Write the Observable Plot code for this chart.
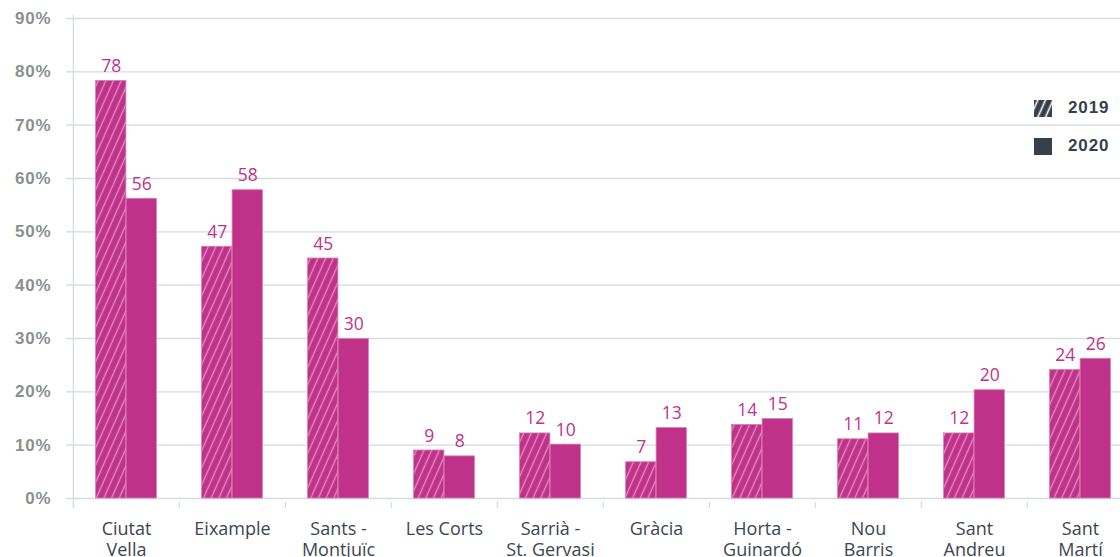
<!DOCTYPE html>
<html><head><meta charset="utf-8">
<script src="https://cdn.jsdelivr.net/npm/d3@7"></script>
<script src="https://cdn.jsdelivr.net/npm/@observablehq/plot@0.6"></script>
<style>
html,body{margin:0;padding:0;background:#fff;overflow:hidden;width:1120px;height:557px;}
#wrap{position:relative;width:1120px;height:557px;overflow:hidden;}
#chart svg{display:block;overflow:visible;max-width:none !important;}
g[aria-label="y-axis tick label"]{font-family:"Liberation Sans",Arial,sans-serif;font-size:17px;font-weight:700;letter-spacing:0.8px;}
g[aria-label="x-axis tick label"]{font-family:"Open Sans",sans-serif;font-size:18px;}
g.vlabels{font-family:"Open Sans",sans-serif;font-size:17.5px;}
#legend{position:absolute;left:1034px;top:99px;font-family:"Liberation Sans",Arial,sans-serif;font-weight:700;font-size:17px;letter-spacing:0.9px;color:#363f4a;}
#legend .row{display:flex;align-items:center;height:18px;margin-bottom:20px;}
#legend svg{margin-right:16px;display:block;}
</style></head><body><div id="wrap"><div id="chart"></div><div id="legend"></div></div>
<script>
const districts = ["Ciutat Vella","Eixample","Sants - Montjuïc","Les Corts","Sarrià - St. Gervasi","Gràcia","Horta - Guinardó","Nou Barris","Sant Andreu","Sant Martí"];
const districtLabels = ["Ciutat\nVella","Eixample","Sants -\nMontjuïc","Les Corts","Sarrià -\nSt. Gervasi","Gràcia","Horta -\nGuinardó","Nou\nBarris","Sant\nAndreu","Sant\nMartí"];
const years = ["2019","2020"];
const values2019 = [78.3, 47.2, 45.0, 9.0, 12.2, 6.8, 13.8, 11.1, 12.2, 24.1];
const values2020 = [56.2, 57.8, 29.9, 7.9, 10.1, 13.2, 14.9, 12.2, 20.3, 26.2];
const yTicks = [0,10,20,30,40,50,60,70,80,90];

const data2019 = districts.map((d,i)=>({district:d, year:years[0], value:values2019[i]}));
const data2020 = districts.map((d,i)=>({district:d, year:years[1], value:values2020[i]}));

const W = 1140, ML = 72, MR = 6;
const bw = (W - ML - MR) / districts.length;
const barW = 30.5;
const magenta = "#c0328a";
const gridColor = "#d6dbdb";
const dark = "#363f4a";

const chart = Plot.plot({
  width: W, height: 557,
  marginTop: 18, marginBottom: 59, marginLeft: ML, marginRight: MR,
  x: {domain: districts, padding: 0, axis: null},
  y: {domain: [0, 90], axis: null},
  marks: [
    Plot.gridY(yTicks, {stroke: gridColor, strokeOpacity: 1, strokeWidth: 1.3}),
    Plot.axisY(yTicks, {label: null, tickSize: 6, tickPadding: 15, stroke: gridColor, strokeWidth: 1.3, fill: "#8a9090", tickFormat: d => d + "%"}),
    Plot.ruleX(districts, {x: d => d, dx: -bw/2, y1: d => 0, y2: d => 0, insetTop: 4, insetBottom: -10, stroke: gridColor, strokeWidth: 1.3}),
    Plot.ruleX([districts[0]], {x: d => d, dx: -bw/2, y1: d => 90, y2: d => 0, insetTop: -3, insetBottom: -10, stroke: gridColor, strokeWidth: 1.3}),
    Plot.barY(data2019, {x: "district", y: "value", fill: "url(#hatch19)", stroke: "#d77db3", strokeWidth: 0.8, insetLeft: bw/2 - barW, insetRight: bw/2}),
    Plot.barY(data2020, {x: "district", y: "value", fill: magenta, stroke: "#d77db3", strokeWidth: 0.8, insetLeft: bw/2, insetRight: bw/2 - barW}),
    Plot.text(data2019, {x: "district", y: "value", text: d => String(Math.round(d.value)), dx: -barW/2, dy: -9, lineAnchor: "bottom", fill: magenta, className: "vlabels"}),
    Plot.text(data2020, {x: "district", y: "value", text: d => String(Math.round(d.value)), dx: barW/2, dy: -9, lineAnchor: "bottom", fill: magenta, className: "vlabels"}),
    Plot.axisX({label: null, tickSize: 0, tickPadding: 21, lineHeight: 1.2, lineAnchor: "top", fill: "#3c4650", tickFormat: d => districtLabels[districts.indexOf(d)]})
  ]
});

const svg = chart.tagName.toLowerCase() === "svg" ? chart : chart.querySelector("svg");
const defs = d3.select(svg).insert("defs", ":first-child");
function hatch(sel, id, bg, fg, sw) {
  const p = sel.append("pattern").attr("id", id).attr("patternUnits", "userSpaceOnUse")
    .attr("width", 7).attr("height", 7).attr("patternTransform", "rotate(24)");
  p.append("rect").attr("width", 7).attr("height", 7).attr("fill", bg);
  p.append("line").attr("x1", 3.5).attr("x2", 3.5).attr("y1", -1).attr("y2", 8).attr("stroke", fg).attr("stroke-width", sw);
}
hatch(defs, "hatch19", magenta, "rgba(255,255,255,0.45)", 1.4);
document.getElementById("chart").appendChild(chart);

// legend
const legend = d3.select("#legend");
years.forEach((yr, i) => {
  const row = legend.append("div").attr("class", "row");
  const s = row.append("svg").attr("width", 18).attr("height", 17);
  if (i === 0) {
    hatch(s.append("defs"), "hatchLeg", dark, "#fff", 1.6);
    s.append("rect").attr("width", 18).attr("height", 17).attr("fill", "url(#hatchLeg)");
  } else {
    s.append("rect").attr("width", 18).attr("height", 17).attr("fill", dark);
  }
  row.append("span").text(yr);
});
</script></body></html>
